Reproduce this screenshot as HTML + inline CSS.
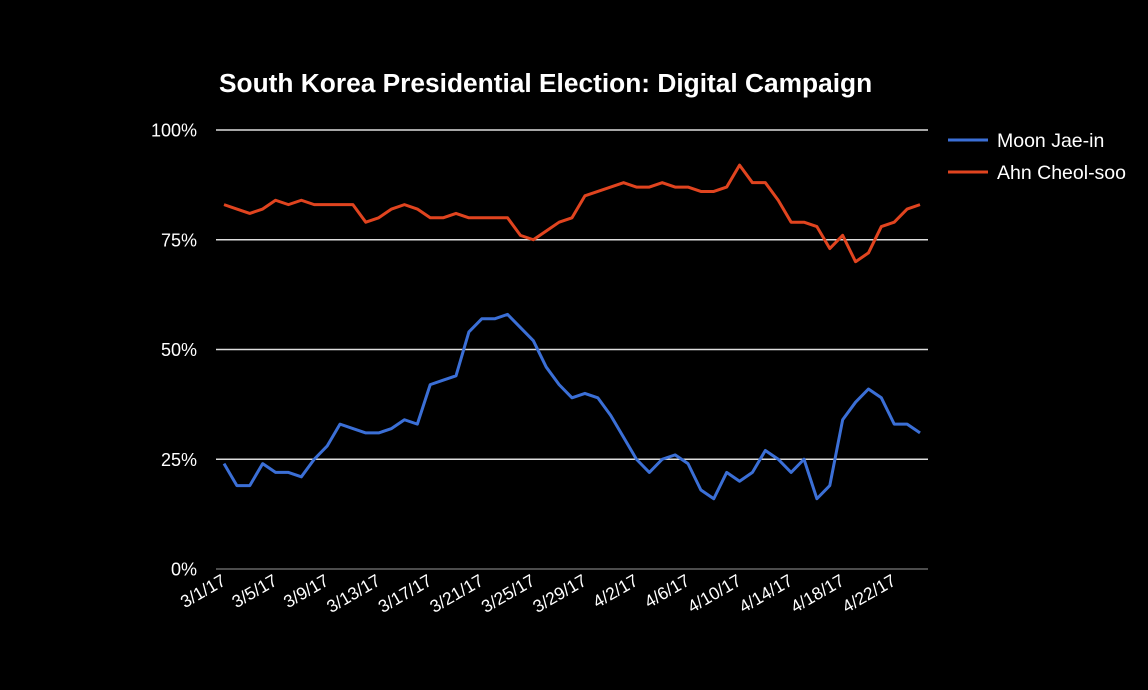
<!DOCTYPE html>
<html><head><meta charset="utf-8"><style>
html,body{margin:0;padding:0;background:#000;}
svg{display:block;font-family:"Liberation Sans",Arial,sans-serif;}
</style></head><body>
<svg id="chart" width="1148" height="690" viewBox="0 0 1148 690">
<rect width="1148" height="690" fill="#000"/>
<text x="219" y="92" fill="#fff" font-size="26.3" font-weight="bold">South Korea Presidential Election: Digital Campaign</text>
<g id="grid"></g>
<g id="ylabels"></g>
<g id="xlabels"></g>
<g id="series"></g>
<g>
<g>
<line x1="948" y1="140" x2="988" y2="140" stroke="#3b6fd6" stroke-width="3"/>
<text x="997" y="147" fill="#fff" font-size="19.5">Moon Jae-in</text></g>
<g>
<line x1="948" y1="172" x2="988" y2="172" stroke="#e0441f" stroke-width="3"/>
<text x="997" y="179" fill="#fff" font-size="19.5">Ahn Cheol-soo</text></g>
</g>
</svg>
<script>
const moon = [24,19,19,24,22,22,21,25,28,33,32,31,31,32,34,33,42,43,44,54,57,57,58,55,52,46,42,39,40,39,35,30,25,22,25,26,24,18,16,22,20,22,27,25,22,25,16,19,34,38,41,39,33,33,31];
const ahn = [83,82,81,82,84,83,84,83,83,83,83,79,80,82,83,82,80,80,81,80,80,80,80,76,75,77,79,80,85,86,87,88,87,87,88,87,87,86,86,87,92,88,88,84,79,79,78,73,76,70,72,78,79,82,83];
const yTicks = [0,25,50,75,100];
const yTickLabels = ["0%","25%","50%","75%","100%"];
const xTickIdx = [0,4,8,12,16,20,24,28,32,36,40,44,48,52];
const xTickLabels = ["3/1/17","3/5/17","3/9/17","3/13/17","3/17/17","3/21/17","3/25/17","3/29/17","4/2/17","4/6/17","4/10/17","4/14/17","4/18/17","4/22/17"];

const NS="http://www.w3.org/2000/svg";
const X0=224, X1=920, Y0=569, Y1=130;
function xs(i){return X0+(X1-X0)*i/(moon.length-1);}
function ys(v){return Y0-(Y0-Y1)*v/100;}
function mk(tag,attrs,parent){const e=document.createElementNS(NS,tag);for(const k in attrs)e.setAttribute(k,attrs[k]);parent.appendChild(e);return e;}
const grid=document.getElementById('grid'), yl=document.getElementById('ylabels'), xl=document.getElementById('xlabels'), ser=document.getElementById('series');
yTicks.forEach((t,i)=>{
  const l=mk('line',{x1:216,x2:928,y1:ys(t),y2:ys(t),stroke:t===0?'#666':'#ddd','stroke-width':1.5},grid);
  
  
  const tx=mk('text',{x:197,y:ys(t)+6.5,fill:'#fff','font-size':18,'text-anchor':'end'},yl);
  tx.textContent=yTickLabels[i];
  
  
});
xTickIdx.forEach((idx,i)=>{
  const x=xs(idx)+3, y=584;
  const tx=mk('text',{x:x,y:y,fill:'#fff','font-size':17.5,'text-anchor':'end',transform:`rotate(-30 ${x} ${y})`},xl);
  tx.textContent=xTickLabels[i];
  
  
});
function line(data,color,name){
  const p=mk('polyline',{points:data.map((v,i)=>xs(i)+','+ys(v)).join(' '),fill:'none',stroke:color,'stroke-width':3,'stroke-linejoin':'round'},ser);
  
  
}
line(ahn,'#e0441f','ahn-line');
line(moon,'#3b6fd6','moon-line');
</script>
</body></html>
